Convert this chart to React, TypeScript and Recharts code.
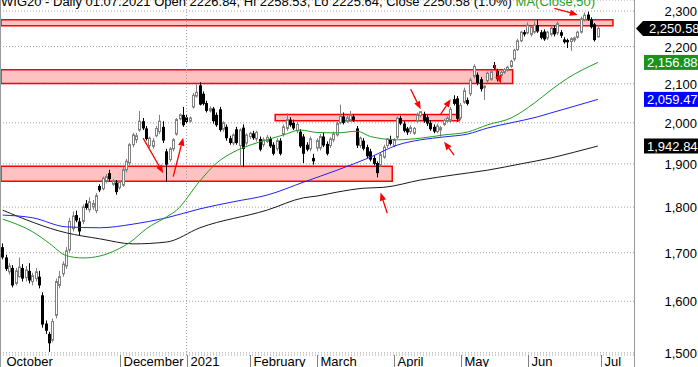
import React from "react";
import {
  ComposedChart,
  Bar,
  Line,
  XAxis,
  YAxis,
  CartesianGrid,
  ReferenceArea,
  ReferenceLine,
} from "recharts";

// WIG20 daily, 12.10.2020 - 01.07.2021
const opens = [
  1712, 1690, 1660, 1668, 1636, 1650, 1668, 1648, 1662, 1640, 1646, 1650, 1612, 1556, 1536, 1524, 1572, 1632, 1656, 1672,
  1706, 1752, 1782, 1768, 1768, 1808, 1794, 1800, 1792, 1848, 1842, 1860, 1878, 1852, 1856, 1844, 1850, 1886, 1902, 1946,
  1958, 1982, 2004, 1986, 1944, 1942, 1968, 1978, 1990, 1930, 1910, 1936, 1972, 2010, 2020, 2014, 2004, 2040, 2068, 2096,
  2074, 2050, 2030, 2036, 2020, 2034, 1984, 1990, 1962, 1950, 1984, 1944, 1988, 1950, 1966, 1974, 1960, 1960, 1946, 1954,
  1960, 1946, 1936, 1956, 1972, 1986, 2008, 2000, 1980, 1978, 1966, 1946, 1936, 1914, 1938, 1938, 1966, 1948, 1944, 1958,
  1970, 2000, 2016, 2004, 2008, 2016, 1986, 1944, 1956, 1940, 1930, 1914, 1902, 1898, 1916, 1944, 1960, 1944, 1964, 2012,
  1998, 1986, 1978, 1974, 2004, 2018, 2022, 2014, 2000, 1990, 1978, 1982, 1996, 2004, 2006, 2060, 2062, 2012, 2052, 2058,
  2074, 2120, 2124, 2112, 2090, 2108, 2112, 2150, 2134, 2122, 2130, 2136, 2146, 2166, 2192, 2216, 2240, 2238, 2234, 2240,
  2260, 2240, 2242, 2224, 2234, 2252, 2238, 2240, 2220, 2218, 2214, 2218, 2226, 2240, 2274, 2290, 2276, 2262, 2226.84,
];
const highs = [
  1720, 1696, 1678, 1674, 1668, 1690, 1676, 1672, 1678, 1658, 1668, 1662, 1618, 1562, 1540, 1566, 1646, 1662, 1682, 1712,
  1776, 1790, 1792, 1776, 1806, 1816, 1822, 1816, 1832, 1852, 1870, 1876, 1886, 1864, 1862, 1862, 1892, 1912, 1950, 1975,
  1975, 2030, 2012, 1992, 1966, 1962, 1992, 2020, 2004, 1936, 1940, 1962, 2012, 2024, 2040, 2020, 2016, 2076, 2098, 2104,
  2080, 2056, 2042, 2040, 2026, 2040, 2004, 1996, 1968, 1974, 1990, 1986, 1996, 1974, 1978, 1980, 1980, 1966, 1964, 1970,
  1966, 1952, 1962, 1962, 1996, 2024, 2014, 2008, 2002, 1984, 1972, 1952, 1966, 1924, 1962, 1972, 1976, 1954, 1964, 1978,
  2002, 2046, 2026, 2018, 2030, 2022, 1992, 1966, 1962, 1946, 1936, 1920, 1906, 1926, 1946, 1962, 1968, 1962, 2016, 2018,
  2004, 1990, 1994, 1990, 2026, 2030, 2028, 2020, 2006, 1996, 1998, 1992, 2010, 2016, 2040, 2070, 2068, 2050, 2090, 2064,
  2116, 2152, 2130, 2118, 2096, 2132, 2136, 2158, 2140, 2134, 2142, 2148, 2164, 2194, 2222, 2244, 2246, 2268, 2258, 2276,
  2276, 2246, 2248, 2244, 2256, 2258, 2270, 2246, 2226, 2222, 2226, 2228, 2244, 2284, 2296, 2298, 2282, 2266, 2258.53,
];
const lows = [
  1686, 1662, 1654, 1628, 1632, 1648, 1640, 1640, 1636, 1632, 1640, 1626, 1548, 1536, 1502, 1520, 1566, 1626, 1650, 1666,
  1700, 1746, 1766, 1738, 1762, 1794, 1788, 1794, 1786, 1834, 1838, 1854, 1858, 1848, 1828, 1840, 1846, 1880, 1896, 1940,
  1950, 1978, 1982, 1956, 1938, 1936, 1964, 1972, 1950, 1858, 1905, 1930, 1968, 2006, 1990, 1998, 2000, 2036, 2064, 2044,
  2044, 2026, 2026, 1998, 1990, 1978, 1978, 1956, 1946, 1944, 1946, 1894, 1892, 1944, 1960, 1958, 1954, 1930, 1940, 1950,
  1938, 1920, 1930, 1920, 1966, 1980, 1990, 1982, 1974, 1938, 1902, 1930, 1930, 1898, 1930, 1932, 1940, 1920, 1938, 1952,
  1966, 1996, 1996, 2000, 2004, 2002, 1938, 1938, 1932, 1914, 1906, 1896, 1868, 1892, 1912, 1938, 1944, 1940, 1960, 1994,
  1976, 1970, 1972, 1970, 2000, 2014, 2000, 1992, 1980, 1974, 1974, 1966, 1992, 2000, 2000, 2044, 2002, 2006, 2048, 2044,
  2068, 2114, 2096, 2080, 2058, 2102, 2108, 2138, 2106, 2116, 2126, 2132, 2142, 2160, 2188, 2212, 2228, 2234, 2228, 2236,
  2238, 2220, 2216, 2218, 2228, 2228, 2232, 2224, 2208, 2196, 2188, 2212, 2222, 2236, 2270, 2272, 2250, 2214, 2225.64,
];
const closes = [
  1690, 1666, 1672, 1632, 1662, 1670, 1646, 1664, 1642, 1652, 1660, 1632, 1554, 1542, 1518, 1560, 1640, 1650, 1676, 1704,
  1768, 1780, 1770, 1746, 1800, 1798, 1812, 1808, 1826, 1838, 1866, 1870, 1864, 1860, 1834, 1858, 1886, 1906, 1946, 1970,
  1968, 2004, 1986, 1960, 1962, 1955, 1986, 2004, 1956, 1898, 1936, 1958, 2008, 2020, 1994, 2002, 2012, 2070, 2078, 2046,
  2048, 2030, 2036, 2004, 1994, 1982, 2000, 1962, 1950, 1970, 1950, 1982, 1936, 1970, 1974, 1962, 1976, 1934, 1958, 1964,
  1942, 1924, 1956, 1924, 1990, 2008, 1994, 1986, 1996, 1942, 1924, 1934, 1960, 1906, 1956, 1966, 1944, 1924, 1960, 1972,
  1998, 2016, 2000, 2012, 2020, 2006, 1944, 1962, 1936, 1918, 1910, 1900, 1878, 1922, 1940, 1960, 1948, 1958, 2012, 1998,
  1980, 1976, 1988, 1986, 2020, 2028, 2004, 1998, 1984, 1978, 1992, 1988, 2006, 2012, 2034, 2048, 2010, 2044, 2082, 2048,
  2110, 2146, 2102, 2086, 2094, 2128, 2132, 2142, 2112, 2130, 2138, 2144, 2160, 2190, 2216, 2240, 2234, 2260, 2254, 2260,
  2242, 2224, 2220, 2240, 2252, 2234, 2264, 2230, 2212, 2212, 2222, 2224, 2240, 2278, 2288, 2276, 2254, 2218, 2250.58,
];

// empty slots right of the last session
const PAD_SLOTS = 10;

// moving averages: [session index, value]
const ma50Knots = [
  [0, 1773], [9, 1745], [14, 1720], [19, 1694], [24, 1689], [29, 1693], [34, 1706], [38, 1722], [43, 1752],
  [49, 1778], [52, 1793], [59, 1860], [64, 1902], [69, 1928], [74, 1945], [79, 1958], [84, 1970], [89, 1982],
  [94, 1976], [100, 1975], [106, 1979], [110, 1966], [118, 1958], [125, 1962], [132, 1970], [139, 1977],
  [145, 1995], [152, 2012], [159, 2050], [164, 2084], [169, 2115], [178, 2156.88],
];
const ma100Knots = [
  [0, 1782], [9, 1776], [19, 1756], [29, 1754], [39, 1762], [49, 1776], [59, 1796], [69, 1812], [79, 1827],
  [90, 1857], [100, 1885], [110, 1916], [118, 1945], [125, 1958], [132, 1965], [139, 1972], [145, 1987],
  [152, 2000], [160, 2015], [164, 2025], [171, 2042], [178, 2059.47],
];
const ma200Knots = [
  [0, 1793], [19, 1743], [29, 1730], [39, 1719], [49, 1723], [59, 1754], [79, 1793], [90, 1821], [94, 1825],
  [100, 1834], [108, 1843], [114, 1845], [125, 1862], [135, 1874], [145, 1885], [155, 1900], [164, 1914],
  [171, 1928], [178, 1942.84],
];

const monthTicks = [0, 35, 55, 74, 94, 117, 137, 157, 179];
const monthLabels = ["October", "December", "2021", "February", "March", "April", "May", "Jun", "Jul"];
const priceTicks = [1500, 1600, 1700, 1800, 1900, 2000, 2100, 2200, 2300];

// support / resistance zones: [from index, to index, low, high]
const zones = [
  [0, 182, 2258, 2275],
  [0, 152, 2101, 2137],
  [82, 136, 2005, 2021],
  [0, 116, 1859, 1894],
];

// red arrows: [tail index, tail price, tip index, tip price]
const arrows = [
  [42, 1962, 48, 1878],
  [51, 1870, 54, 1963],
  [115, 1786, 113, 1833],
  [122, 2086, 125, 2034],
  [131, 2022, 134, 2060],
  [135, 1921, 132, 1953],
  [147, 2150, 149, 2101],
  [165, 2308, 172, 2289],
];

const lastValues = [
  { v: 2250.58, color: "#000000", pointer: true },
  { v: 2156.88, color: "#1a931a", pointer: false },
  { v: 2059.47, color: "#0000ff", pointer: false },
  { v: 1942.84, color: "#000000", pointer: false },
];

const FONT = "'Liberation Sans', Arial, sans-serif";
const fmt = (n: number, d = 0) =>
  n.toLocaleString("en-US", { minimumFractionDigits: d, maximumFractionDigits: d });

const rows: any[] = Array.from({ length: closes.length + PAD_SLOTS }, (_, i) => {
  const row: any = { i };
  if (i < closes.length) {
    row.o = opens[i];
    row.h = highs[i];
    row.l = lows[i];
    row.c = closes[i];
    row.range = [lows[i], highs[i]];
  }
  return row;
});
ma50Knots.forEach(([i, v]) => (rows[i].ma50 = v));
ma100Knots.forEach(([i, v]) => (rows[i].ma100 = v));
ma200Knots.forEach(([i, v]) => (rows[i].ma200 = v));

// body/wick placed inside the high-low bar, log interpolation matches the log axis
function Candle(props: any) {
  const { x, y, width, height, payload } = props;
  if (payload == null || payload.o == null) return null;
  const top = Math.min(y, y + height);
  const h = Math.abs(height);
  const lh = Math.log(payload.h);
  const ll = Math.log(payload.l);
  const py = (p: number) => top + ((lh - Math.log(p)) / (lh - ll || 1)) * h;
  const f = Math.floor(x + width / 2);
  const up = payload.c >= payload.o;
  const bTop = py(Math.max(payload.o, payload.c));
  const bBot = py(Math.min(payload.o, payload.c));
  if (up) {
    return (
      <g>
        <line x1={f + 0.5} x2={f + 0.5} y1={top} y2={bTop} stroke="#808080" />
        <line x1={f + 0.5} x2={f + 0.5} y1={bBot} y2={top + h} stroke="#808080" />
        <rect x={f - 0.5} y={bTop} width={2} height={Math.max(bBot - bTop, 1)} fill="#ffffff" stroke="#808080" />
      </g>
    );
  }
  return (
    <g>
      <line x1={f + 0.5} x2={f + 0.5} y1={top} y2={top + h} stroke="#000" />
      <rect x={f - 1} y={bTop} width={3} height={Math.max(bBot - bTop, 1)} fill="#000" />
    </g>
  );
}

function ArrowShape(props: any) {
  const { x1, y1, x2, y2 } = props;
  const a = Math.atan2(y2 - y1, x2 - x1);
  const L = 8;
  const hw = 3.2;
  const bx = x2 - L * Math.cos(a);
  const by = y2 - L * Math.sin(a);
  const px = -Math.sin(a) * hw;
  const py = Math.cos(a) * hw;
  return (
    <g>
      <line x1={x1} y1={y1} x2={bx} y2={by} stroke="#ff0000" strokeWidth={1.3} />
      <polygon points={`${x2},${y2} ${bx + px},${by + py} ${bx - px},${by - py}`} fill="#ff0000" />
    </g>
  );
}

function ValueTag(props: any) {
  const { viewBox, tagText, tagColor, tagPointer } = props;
  if (!viewBox) return null;
  const y = viewBox.y;
  const right = viewBox.x + viewBox.width;
  const x0 = right + 10;
  const shape = tagPointer ? (
    <polygon
      points={`${right + 2},${y} ${right + 9},${y - 7.5} 698,${y - 7.5} 698,${y + 7.5} ${right + 9},${y + 7.5}`}
      fill={tagColor}
    />
  ) : (
    <rect x={x0} y={y - 7.5} width={698 - x0} height={15} fill={tagColor} />
  );
  return (
    <g>
      {shape}
      <text x={tagPointer ? x0 + 5 : x0 + 3} y={y + 5} fill="#fff" fontSize={13} fontFamily={FONT}>
        {tagText}
      </text>
    </g>
  );
}

function PriceTick(props: any) {
  const { y, payload } = props;
  return (
    <text x={697} y={y + 5} textAnchor="end" fontSize={13} fill="#000" fontFamily={FONT}>
      {fmt(payload.value)}
    </text>
  );
}

function MonthTick(props: any) {
  const { x, payload } = props;
  const k = monthTicks.indexOf(payload.value);
  const sx = Math.round(x) + 0.5;
  return (
    <g>
      {k > 0 && <line x1={sx} x2={sx} y1={355} y2={367} stroke="#808080" />}
      <text x={sx + 3} y={366} fontSize={13} fill="#000" fontFamily={FONT}>
        {monthLabels[k]}
      </text>
    </g>
  );
}

export default function App() {
  return (
    <div
      style={{
        position: "relative",
        width: 698,
        height: 367,
        overflow: "hidden",
        background: "#fff",
        fontFamily: FONT,
      }}
    >
      <style>{"body{margin:0}"}</style>
      <ComposedChart width={698} height={367} data={rows} margin={{ top: 0, right: 0, bottom: 0, left: 0 }}>
        <CartesianGrid vertical={false} stroke="#a0a0a0" strokeDasharray="1 2" />
        <XAxis
          dataKey="i"
          type="category"
          height={12}
          padding={{ left: 1, right: 1 }}
          ticks={monthTicks}
          interval={0}
          tick={<MonthTick />}
          tickLine={false}
          axisLine={false}
        />
        <YAxis
          orientation="right"
          width={64}
          scale="log"
          domain={[1496, 2332]}
          allowDataOverflow
          ticks={priceTicks}
          interval={0}
          tick={<PriceTick />}
          tickLine={false}
          axisLine={false}
        />
        {zones.map(([a, b, lo, hi], k) => (
          <ReferenceArea
            key={"z" + k}
            x1={a}
            x2={b}
            y1={lo}
            y2={hi}
            fill="#ffc2c2"
            fillOpacity={1}
            stroke="#ff0000"
            strokeWidth={1.5}
          />
        ))}
        <ReferenceLine x={55} stroke="#a0a0a0" strokeDasharray="1 2" />
        <Bar dataKey="range" shape={<Candle />} isAnimationActive={false} />
        <Line type="monotone" dataKey="ma200" stroke="#1a1a1a" strokeWidth={1} dot={false} connectNulls isAnimationActive={false} />
        <Line type="monotone" dataKey="ma100" stroke="#2020ff" strokeWidth={1} dot={false} connectNulls isAnimationActive={false} />
        <Line type="monotone" dataKey="ma50" stroke="#1f9f1f" strokeWidth={1} dot={false} connectNulls isAnimationActive={false} />
        {arrows.map(([xa, ya, xb, yb], k) => (
          <ReferenceLine
            key={"a" + k}
            segment={[
              { x: xa, y: ya },
              { x: xb, y: yb },
            ]}
            ifOverflow="visible"
            shape={<ArrowShape />}
          />
        ))}
        {lastValues.map((t, k) => (
          <ReferenceLine
            key={"t" + k}
            y={t.v}
            stroke="none"
            label={<ValueTag tagText={fmt(t.v, 2)} tagColor={t.color} tagPointer={t.pointer} />}
          />
        ))}
      </ComposedChart>
      <div style={{ position: "absolute", left: 634, top: 0, width: 1, height: 367, background: "#9a9a9a" }} />
      <div style={{ position: "absolute", left: 0, top: 0, width: 1, height: 367, background: "#9a9a9a" }} />
      <div
        style={{
          position: "absolute",
          left: 1,
          top: -5,
          fontSize: 13,
          lineHeight: "13px",
          whiteSpace: "nowrap",
          color: "#000",
        }}
      >
        WIG20 - Daily 01.07.2021 Open 2226.84, Hi 2258.53, Lo 2225.64, Close 2250.58 (1.0%){" "}
        <span style={{ color: "#1f9f1f" }}>MA(Close,50)</span>
      </div>
    </div>
  );
}
